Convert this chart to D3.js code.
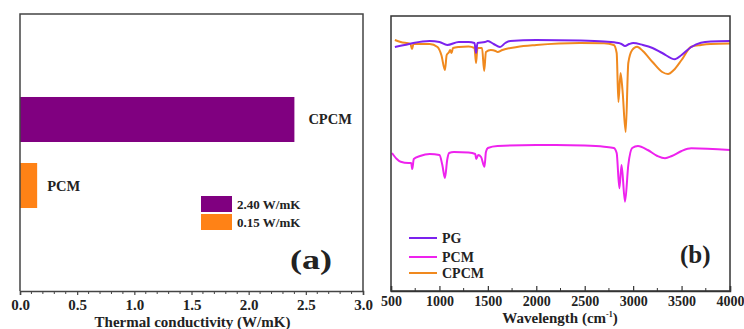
<!DOCTYPE html>
<html><head><meta charset="utf-8">
<script src="https://cdn.jsdelivr.net/npm/d3@7"></script>
<style>
html,body{margin:0;padding:0;background:#fff;}
svg text{font-family:"Liberation Serif","Times New Roman",serif !important;font-weight:bold !important;fill:#222;}
</style></head>
<body>
<svg id="c" width="744" height="329"></svg>
<script>
// ---------- Panel (a) data ----------
const barCategories = ["CPCM", "PCM"];
const barValues = [2.40, 0.15];
const barColors = ["#800080", "#ff8216"];
const xTicksA = [0.0, 0.5, 1.0, 1.5, 2.0, 2.5, 3.0];

// ---------- Panel (b) data: FTIR spectra [wavenumber, transmittance a.u.] ----------
const seriesNames = ["PG", "PCM", "CPCM"];
const seriesColors = ["#7b22ee", "#ee22ee", "#f0891e"];
const pgSpectrum = [[540,243],[640,245],[730,247],[900,249],[1000,248],[1080,245],[1200,248],[1300,248],[1362,247],[1378,237],[1393,247],[1470,248],[1500,249],[1560,246],[1625,243],[1680,247],[1730,249],[2000,250],[2450,249.5],[2700,248.5],[2850,247],[2880,246],[2916,244],[2960,246],[3000,247],[3100,245],[3200,242],[3300,237],[3432,230.7],[3500,235],[3600,243],[3700,247.3],[3800,248.5],[4000,249]];
const pcmSpectrum = [[510,137],[560,131],[600,128.3],[680,127],[708,127],[720,121],[735,131],[800,134],[900,136],[1000,135],[1030,125],[1057,112],[1080,130],[1100,137],[1150,138],[1300,137.5],[1370,136],[1380,131],[1400,135],[1430,133],[1465,123.3],[1480,138],[1500,142],[1600,144],[2000,145],[2200,145],[2500,144.5],[2700,143.3],[2800,142],[2830,137],[2858,101.7],[2880,125],[2916,88.3],[2950,125],[2990,142],[3050,144],[3150,140],[3250,134],[3329,131.7],[3400,134],[3500,139],[3600,141.7],[4000,140]];
const cpcmSpectrum = [[540,250],[600,248],[700,246],[717,241],[732,246],[900,246],[980,243],[1020,235],[1057,220],[1075,235],[1100,238],[1110,240],[1125,237],[1140,242],[1200,243],[1300,243.5],[1362,242],[1378,227],[1393,242],[1440,242],[1462,219],[1480,238],[1530,240],[1580,239],[1600,238],[1650,240],[1800,243],[2000,245],[2450,247],[2700,246.7],[2800,245],[2830,237],[2848,188],[2870,217],[2890,200],[2923,158],[2950,227],[2990,240],[3040,243.3],[3100,239],[3200,228],[3300,218],[3360,216],[3420,220],[3500,230],[3600,243.3],[3700,245],[3800,246],[4000,246.5]];
const spectra = [pgSpectrum, pcmSpectrum, cpcmSpectrum];
const xTicksB = [500,1000,1500,2000,2500,3000,3500,4000];

const svg = d3.select("#c");
const FONT = '"Liberation Serif","Times New Roman",serif';

// ================= Panel (a) =================
const A = {l:20, r:363, t:14, b:291};
const xA = d3.scaleLinear().domain([0,3]).range([A.l, A.r]);
const yA = d3.scaleBand().domain(barCategories).range([76,229]).padding(0.318);

const ga = svg.append("g");
ga.selectAll("rect.bar").data(barCategories).join("rect")
  .attr("class","bar")
  .attr("x", xA(0))
  .attr("y", d => yA(d))
  .attr("width", (d,i) => xA(barValues[i]) - xA(0))
  .attr("height", yA.bandwidth())
  .attr("fill", (d,i) => barColors[i]);

ga.selectAll("text.blab").data(barCategories).join("text")
  .attr("class","blab")
  .attr("x", (d,i) => xA(barValues[i]) + (i===0?14:10))
  .attr("y", d => yA(d) + yA.bandwidth()/2 + 5)
  .attr("font-size", 14.5)
  .text(d => d);

// frame
ga.append("path").attr("d", `M${A.l},${A.b}V${A.t}H${A.r}V${A.b}`)
  .attr("fill","none").attr("stroke","#444").attr("stroke-width",1.5);

const axA = d3.axisBottom(xA).tickValues(xTicksA).tickFormat(d3.format(".1f")).tickSize(4).tickPadding(4);
const gaxA = ga.append("g").attr("transform",`translate(0,${A.b})`).call(axA)
  .attr("font-family", FONT).attr("font-size", 15);
gaxA.select(".domain").attr("stroke","#444").attr("stroke-width",1.5);
gaxA.selectAll(".tick line").attr("stroke","#444").attr("stroke-width",1.2);
gaxA.selectAll(".tick text").style("font-size","15px").style("font-family",FONT).style("font-weight","bold").attr("fill","#222");
// minor ticks
ga.append("g").selectAll("line").data(d3.range(0,3.0001,0.1).filter(v => Math.abs(v*2 - Math.round(v*2))>1e-6)).join("line")
  .attr("x1", d => xA(d)).attr("x2", d => xA(d))
  .attr("y1", A.b).attr("y2", A.b+3)
  .attr("stroke","#444").attr("stroke-width",1);

ga.append("text").attr("x", (A.l+A.r)/2 + 1).attr("y", 327).attr("text-anchor","middle")
  .attr("font-size",15).text("Thermal conductivity (W/mK)");

// legend (a)
const legA = ga.append("g");
barValues.forEach((v,i) => {
  legA.append("rect").attr("x",201).attr("y",196 + i*18).attr("width",31).attr("height",16).attr("fill",barColors[i]);
  legA.append("text").attr("x",237).attr("y",209 + i*18).attr("font-size",13).text(d3.format(".2f")(v) + " W/mK");
});
ga.append("text").attr("x",290).attr("y",269).attr("font-size",27).attr("textLength",42).attr("lengthAdjust","spacingAndGlyphs").text("(a)");

// ================= Panel (b) =================
const B = {l:391, r:730, t:16, b:291};
const xB = d3.scaleLinear().domain([500,4000]).range([B.l, B.r]);
const yB = d3.scaleLinear().domain([0,274]).range([290,16]);
const gb = svg.append("g");

const line = d3.line().x(d => xB(d[0])).y(d => yB(d[1])).curve(d3.curveMonotoneX);
[1,2,0].forEach(i => {
  gb.append("path").datum(spectra[i]).attr("d", line)
    .attr("fill","none").attr("stroke", seriesColors[i]).attr("stroke-width",2).attr("stroke-linejoin","round");
});

gb.append("rect").attr("x",B.l).attr("y",B.t).attr("width",B.r-B.l).attr("height",B.b-B.t)
  .attr("fill","none").attr("stroke","#333").attr("stroke-width",1.5);

const axB = d3.axisBottom(xB).tickValues(xTicksB).tickFormat(d3.format("d")).tickSize(-5).tickPadding(7);
const gaxB = gb.append("g").attr("transform",`translate(0,${B.b})`).call(axB)
  .attr("font-family", FONT).attr("font-size", 14);
gaxB.select(".domain").attr("stroke","#333").attr("stroke-width",1.5);
gaxB.selectAll(".tick line").attr("stroke","#333").attr("stroke-width",1.2);
gaxB.selectAll(".tick text").attr("y",5).style("font-size","14px").style("font-family",FONT).style("font-weight","bold").attr("fill","#222");
gb.append("g").selectAll("line").data(d3.range(750,4000,500)).join("line")
  .attr("x1", d => xB(d)).attr("x2", d => xB(d))
  .attr("y1", B.b).attr("y2", B.b-3)
  .attr("stroke","#333").attr("stroke-width",1);

const tB = gb.append("text").attr("x",560).attr("y",323).attr("text-anchor","middle").attr("font-size",15);
tB.append("tspan").text("Wavelength (cm");
tB.append("tspan").attr("font-size",8).attr("dy",-6).text("-1");
tB.append("tspan").attr("dy",6).text(")");

// legend (b)
seriesNames.forEach((n,i) => {
  const yy = [238,257,273][i];
  gb.append("line").attr("x1",409).attr("x2",437).attr("y1",yy).attr("y2",yy)
    .attr("stroke",seriesColors[i]).attr("stroke-width",2);
  gb.append("text").attr("x",442).attr("y",yy+5).attr("font-size",14).text(n);
});
gb.append("text").attr("x",680).attr("y",263).attr("font-size",25).text("(b)");
</script>
</body></html>
